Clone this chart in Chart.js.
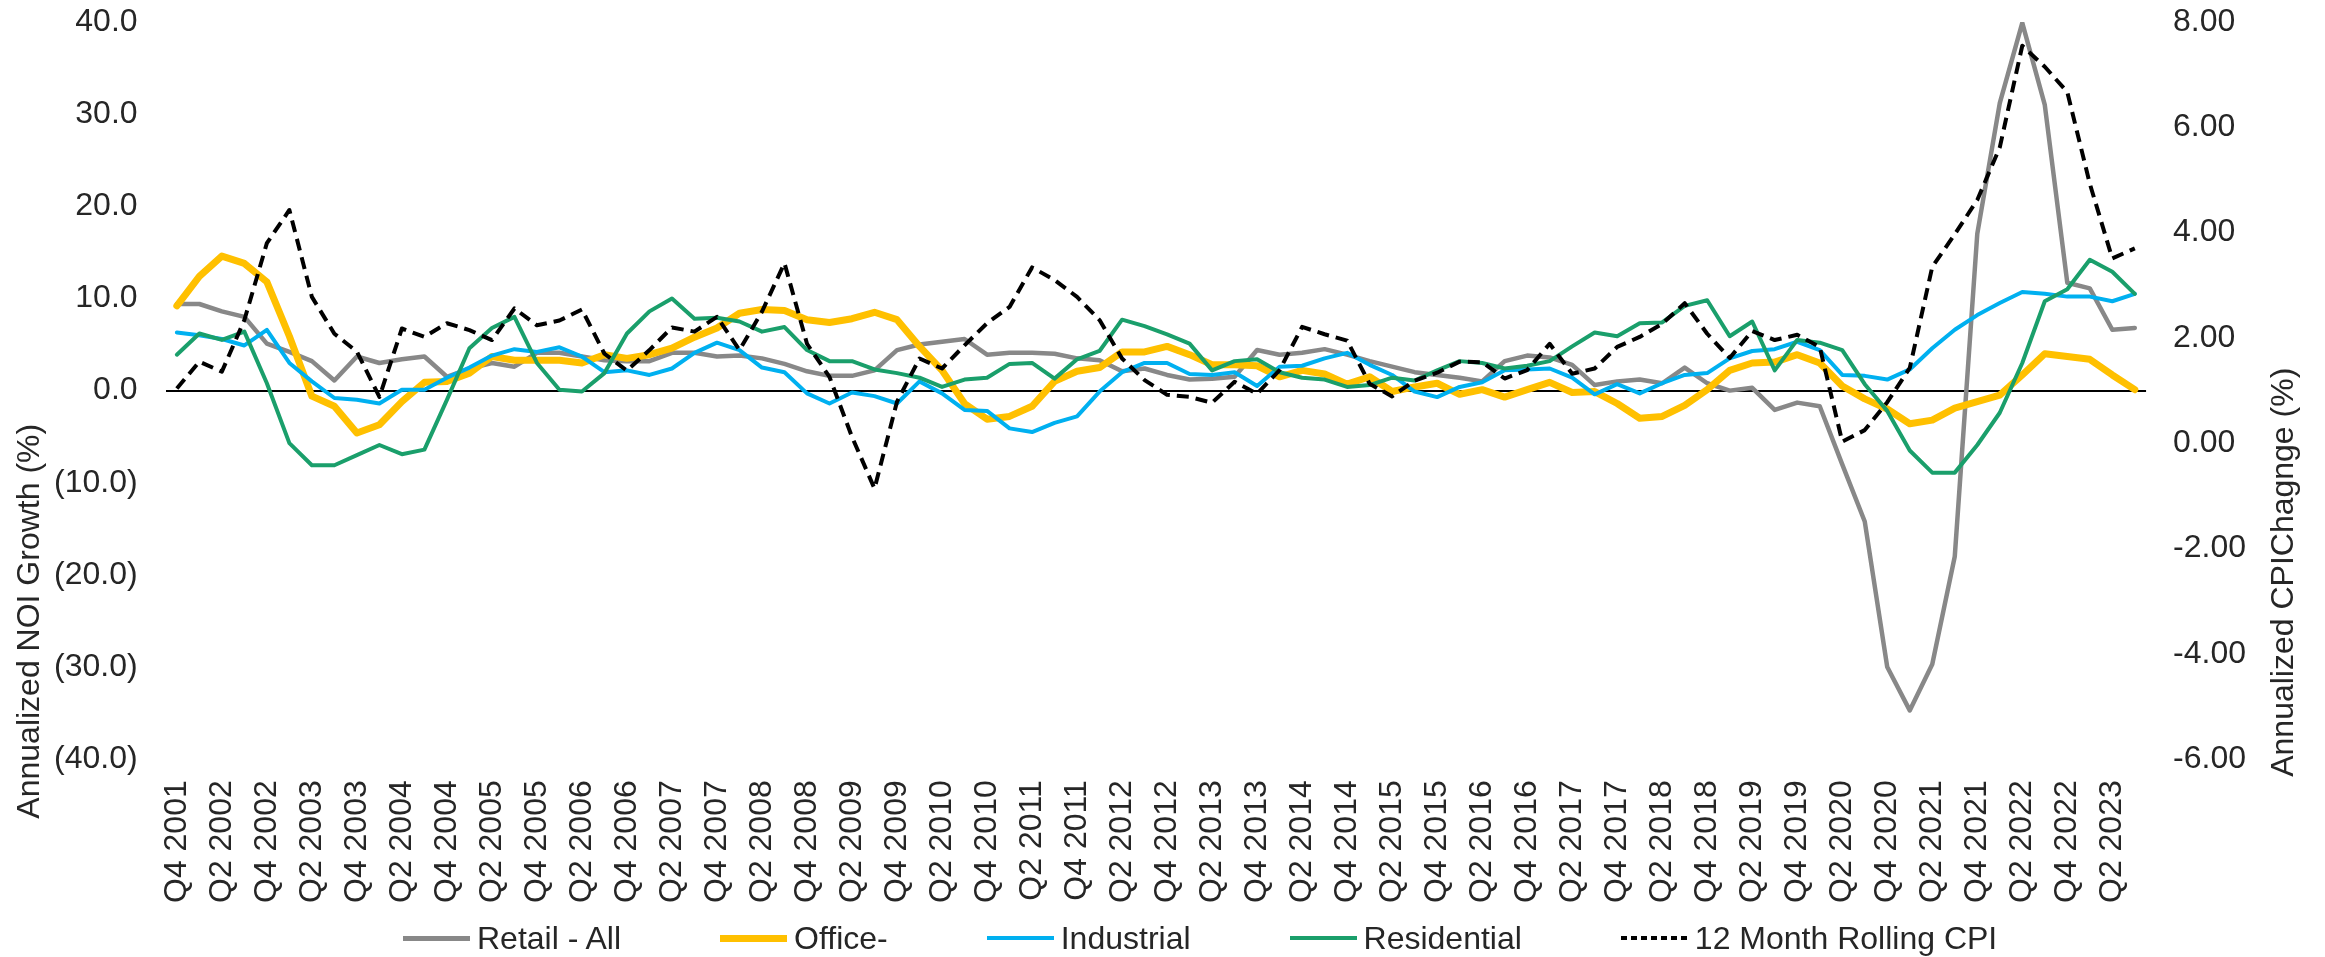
<!DOCTYPE html>
<html lang="en">
<head>
<meta charset="utf-8">
<title>Annualized NOI Growth vs CPI</title>
<script src="https://cdn.jsdelivr.net/npm/chart.js@4.4.1/dist/chart.umd.min.js"></script>
<style>
  html, body { margin: 0; padding: 0; background: #fff; }
  #chartWrap { position: relative; width: 2325px; height: 957px; }
  #chartLegend { position: absolute; left: 403px; top: 922px; display: flex; align-items: center; gap: 99px;
    font: 32px/32px "Liberation Sans", Arial, sans-serif; color: #262626; white-space: nowrap; }
  #chartLegend .item { display: flex; align-items: center; gap: 7px; }
  #chartLegend .swatch { display: inline-block; width: 67px; }
</style>
</head>
<body>
<div id="chartWrap">
  <canvas id="chartNoi"></canvas>
  <div id="chartLegend"></div>
</div>
<script>
const quarters = [
  'Q4 2001',
  'Q1 2002', 'Q2 2002', 'Q3 2002', 'Q4 2002',
  'Q1 2003', 'Q2 2003', 'Q3 2003', 'Q4 2003',
  'Q1 2004', 'Q2 2004', 'Q3 2004', 'Q4 2004',
  'Q1 2005', 'Q2 2005', 'Q3 2005', 'Q4 2005',
  'Q1 2006', 'Q2 2006', 'Q3 2006', 'Q4 2006',
  'Q1 2007', 'Q2 2007', 'Q3 2007', 'Q4 2007',
  'Q1 2008', 'Q2 2008', 'Q3 2008', 'Q4 2008',
  'Q1 2009', 'Q2 2009', 'Q3 2009', 'Q4 2009',
  'Q1 2010', 'Q2 2010', 'Q3 2010', 'Q4 2010',
  'Q1 2011', 'Q2 2011', 'Q3 2011', 'Q4 2011',
  'Q1 2012', 'Q2 2012', 'Q3 2012', 'Q4 2012',
  'Q1 2013', 'Q2 2013', 'Q3 2013', 'Q4 2013',
  'Q1 2014', 'Q2 2014', 'Q3 2014', 'Q4 2014',
  'Q1 2015', 'Q2 2015', 'Q3 2015', 'Q4 2015',
  'Q1 2016', 'Q2 2016', 'Q3 2016', 'Q4 2016',
  'Q1 2017', 'Q2 2017', 'Q3 2017', 'Q4 2017',
  'Q1 2018', 'Q2 2018', 'Q3 2018', 'Q4 2018',
  'Q1 2019', 'Q2 2019', 'Q3 2019', 'Q4 2019',
  'Q1 2020', 'Q2 2020', 'Q3 2020', 'Q4 2020',
  'Q1 2021', 'Q2 2021', 'Q3 2021', 'Q4 2021',
  'Q1 2022', 'Q2 2022', 'Q3 2022', 'Q4 2022',
  'Q1 2023', 'Q2 2023', 'Q3 2023'
];

// NOI growth, % (left axis). Rows: Q4'01-Q1'06, Q2'06-Q2'10, Q3'10-Q4'14, Q1'15-Q1'19, Q2'19-Q3'23
const retailAll = [
  9.4, 9.4, 8.6, 8.0, 5.1, 4.2, 3.2, 1.1, 3.7, 3.0, 3.4, 3.7, 1.5, 2.4, 3.0, 2.6, 4.1, 4.1,
  3.7, 3.3, 3.2, 3.2, 4.1, 4.1, 3.7, 3.8, 3.5, 2.9, 2.1, 1.6, 1.6, 2.2, 4.4, 5.0, 5.3,
  5.6, 3.9, 4.1, 4.1, 4.0, 3.5, 3.3, 2.1, 2.4, 1.7, 1.2, 1.3, 1.5, 4.4, 3.9, 4.1, 4.5, 3.9,
  3.2, 2.6, 2.0, 1.7, 1.4, 1.0, 3.2, 3.8, 3.6, 2.8, 0.6, 1.0, 1.2, 0.8, 2.5, 0.8, 0.0,
  0.3, -2.1, -1.3, -1.7, -8.0, -14.2, -30.0, -34.7, -29.7, -18.0, 17.0, 31.2, 39.9, 31.0, 11.7, 11.1, 6.6, 6.8
];
const office = [
  9.2, 12.4, 14.6, 13.8, 11.8, 5.9, -0.6, -1.7, -4.6, -3.7, -1.2, 0.9, 1.0, 1.9, 3.7, 3.3, 3.3, 3.3,
  3.0, 3.9, 3.5, 3.9, 4.6, 5.8, 6.8, 8.4, 8.8, 8.7, 7.7, 7.4, 7.8, 8.5, 7.7, 4.8, 2.2,
  -1.4, -3.1, -2.8, -1.7, 1.0, 2.1, 2.5, 4.2, 4.2, 4.8, 3.9, 2.8, 2.8, 2.7, 1.5, 2.2, 1.8, 0.7,
  1.5, -0.1, 0.4, 0.8, -0.4, 0.1, -0.7, 0.1, 0.9, -0.2, -0.1, -1.4, -3.0, -2.8, -1.6, 0.1, 2.2,
  3.0, 3.1, 3.9, 3.0, 0.5, -0.9, -2.0, -3.6, -3.2, -1.9, -1.2, -0.5, 1.7, 4.0, 3.7, 3.4, 1.7, 0.1
];
const industrial = [
  6.3, 6.0, 5.6, 4.9, 6.6, 3.0, 1.0, -0.8, -1.0, -1.4, 0.1, 0.1, 1.4, 2.5, 3.8, 4.5, 4.2, 4.7,
  3.7, 2.0, 2.2, 1.7, 2.4, 4.1, 5.2, 4.4, 2.5, 2.0, -0.3, -1.4, -0.2, -0.6, -1.4, 1.0, -0.3,
  -2.1, -2.2, -4.1, -4.5, -3.5, -2.8, -0.1, 2.0, 3.0, 3.0, 1.8, 1.7, 2.0, 0.5, 2.6, 2.7, 3.5, 4.1,
  2.8, 1.7, -0.1, -0.7, 0.4, 0.9, 2.2, 2.3, 2.4, 1.4, -0.4, 0.7, -0.3, 0.8, 1.7, 1.9, 3.5,
  4.3, 4.5, 5.3, 4.4, 1.7, 1.6, 1.2, 2.3, 4.6, 6.6, 8.2, 9.5, 10.7, 10.5, 10.2, 10.2, 9.7, 10.5
];
const residential = [
  3.9, 6.2, 5.5, 6.4, 0.8, -5.7, -8.1, -8.1, -7.0, -5.9, -6.9, -6.4, -1.0, 4.6, 6.8, 8.0, 3.0, 0.1,
  -0.1, 1.9, 6.2, 8.6, 10.0, 7.8, 7.9, 7.5, 6.4, 6.9, 4.4, 3.2, 3.2, 2.3, 1.9, 1.4, 0.4,
  1.2, 1.4, 2.9, 3.0, 1.3, 3.4, 4.3, 7.7, 7.0, 6.1, 5.1, 2.2, 3.2, 3.4, 2.0, 1.4, 1.2, 0.4,
  0.6, 1.4, 1.1, 2.2, 3.2, 3.0, 2.4, 2.7, 3.2, 4.8, 6.3, 5.9, 7.3, 7.4, 9.2, 9.8, 5.9,
  7.5, 2.2, 5.5, 5.2, 4.4, 0.7, -2.2, -6.5, -8.9, -8.9, -5.9, -2.4, 3.0, 9.7, 11.0, 14.2, 12.9, 10.5
];
// CPI change, % (right axis)
const rollingCpi = [
  1.04, 1.55, 1.36, 2.34, 3.80, 4.43, 2.78, 2.08, 1.74, 0.88, 2.18, 2.02, 2.28, 2.15, 1.96, 2.56, 2.24, 2.33,
  2.54, 1.70, 1.38, 1.77, 2.20, 2.12, 2.40, 1.77, 2.50, 3.42, 1.89, 1.26, 0.12, -0.86, 0.79, 1.61, 1.42,
  1.86, 2.28, 2.59, 3.34, 3.10, 2.78, 2.34, 1.61, 1.20, 0.92, 0.88, 0.77, 1.17, 0.94, 1.39, 2.21, 2.07, 1.95,
  1.13, 0.89, 1.19, 1.34, 1.55, 1.54, 1.23, 1.39, 1.89, 1.32, 1.42, 1.83, 2.02, 2.27, 2.66, 2.08, 1.62,
  2.13, 1.96, 2.06, 1.83, 0.03, 0.25, 0.78, 1.43, 3.35, 3.97, 4.62, 5.62, 7.55, 7.15, 6.67, 4.93, 3.51, 3.70
];

const noiTicks = [-40, -30, -20, -10, 0, 10, 20, 30, 40];
const cpiTicks = [-6, -4, -2, 0, 2, 4, 6, 8];
const noiTitle = 'Annualized NOI Growth (%)';
const cpiTitle = 'Annualized CPIChagnge (%)';

const TEXT = '#262626';
const FONT = '"Liberation Sans", Arial, sans-serif';
const FONT_SIZE = 32;

const series = [
  { label: 'Retail - All', data: retailAll, color: '#888888', width: 4.5, axis: 'y' },
  { label: 'Office-', data: office, color: '#FFC000', width: 7, axis: 'y' },
  { label: 'Industrial', data: industrial, color: '#00B0F0', width: 4, axis: 'y' },
  { label: 'Residential', data: residential, color: '#1A9F6B', width: 4, axis: 'y' },
  { label: '12 Month Rolling CPI', data: rollingCpi, color: '#000000', width: 4, axis: 'y1', dash: [12, 7] }
];

const fmtNoi = (v) => v < 0 ? `(${Math.abs(v).toFixed(1)})` : v.toFixed(1);
// keep tick padding from pushing the plot area down
const noLabelPad = (s) => { s.paddingTop = 0; s.paddingBottom = 0; };

// both axis titles read bottom-to-top and sit low, like the source sheet
const axisTitles = {
  id: 'axisTitles',
  afterDraw(chart) {
    const { ctx, chartArea } = chart;
    const items = [
      { text: noiTitle, x: 30, y: chartArea.bottom - 138 },
      { text: cpiTitle, x: chart.width - 41, y: chartArea.bottom - 187 }
    ];
    ctx.save();
    ctx.font = `${FONT_SIZE}px ${FONT}`;
    ctx.fillStyle = TEXT;
    ctx.textAlign = 'center';
    ctx.textBaseline = 'middle';
    items.forEach(t => {
      ctx.save();
      ctx.translate(t.x, t.y);
      ctx.rotate(-Math.PI / 2);
      ctx.fillText(t.text, 0, 0);
      ctx.restore();
    });
    ctx.restore();
  }
};

function renderLegend(list) {
  const el = document.getElementById('chartLegend');
  if (!el) return;
  el.innerHTML = list.map(s => {
    const bg = s.dash ? `repeating-linear-gradient(to right, ${s.color} 0 6px, transparent 6px 10px)` : s.color;
    return `<span class="item"><span class="swatch" style="height:${Math.round(s.width)}px;background:${bg}"></span><span>${s.label}</span></span>`;
  }).join('');
}

function renderChart() {
  const el = document.getElementById('chartNoi');
  if (!el || typeof Chart === 'undefined') return;
  Chart.defaults.font.family = FONT;
  Chart.defaults.font.size = FONT_SIZE;
  Chart.defaults.color = TEXT;

  new Chart(el.getContext('2d'), {
    type: 'line',
    data: {
      labels: quarters,
      datasets: series.map((s, i) => ({
        label: s.label,
        data: s.data,
        yAxisID: s.axis,
        borderColor: s.color,
        backgroundColor: s.color,
        borderWidth: s.width,
        borderDash: s.dash || [],
        borderJoinStyle: 'round',
        borderCapStyle: s.dash ? 'butt' : 'round',
        pointRadius: 0,
        pointHoverRadius: 0,
        tension: 0,
        fill: false,
        order: series.length - i   // later series drawn on top
      }))
    },
    options: {
      responsive: true,
      maintainAspectRatio: false,
      animation: false,
      // tick padding counts twice in the axis size, so outer padding is small
      layout: { padding: { left: 26, right: 52, top: 22, bottom: 33 } },
      plugins: { legend: { display: false }, tooltip: { enabled: false } },
      scales: {
        x: {
          offset: true,
          grid: { display: false, drawTicks: false },
          border: { display: false },
          ticks: {
            autoSkip: false, minRotation: 90, maxRotation: 90, padding: 21,
            callback(v, i) { return i % 2 === 0 ? this.getLabelForValue(v) : ''; }
          }
        },
        y: {
          position: 'left',
          min: noiTicks[0],
          max: noiTicks[noiTicks.length - 1],
          border: { display: false },
          grid: {
            drawTicks: false,
            lineWidth: 2,
            color: (c) => (c.tick && c.tick.value === 0) ? '#000000' : 'rgba(0,0,0,0)'
          },
          ticks: { stepSize: noiTicks[1] - noiTicks[0], padding: 28, callback: fmtNoi },
          afterFit: noLabelPad
        },
        y1: {
          position: 'right',
          min: cpiTicks[0],
          max: cpiTicks[cpiTicks.length - 1],
          border: { display: false },
          grid: { display: false, drawTicks: false },
          ticks: { stepSize: cpiTicks[1] - cpiTicks[0], padding: 27, callback: (v) => v.toFixed(2) },
          afterFit: noLabelPad
        }
      }
    },
    plugins: [axisTitles]
  });
}

renderLegend(series);
renderChart();
</script>
</body>
</html>
